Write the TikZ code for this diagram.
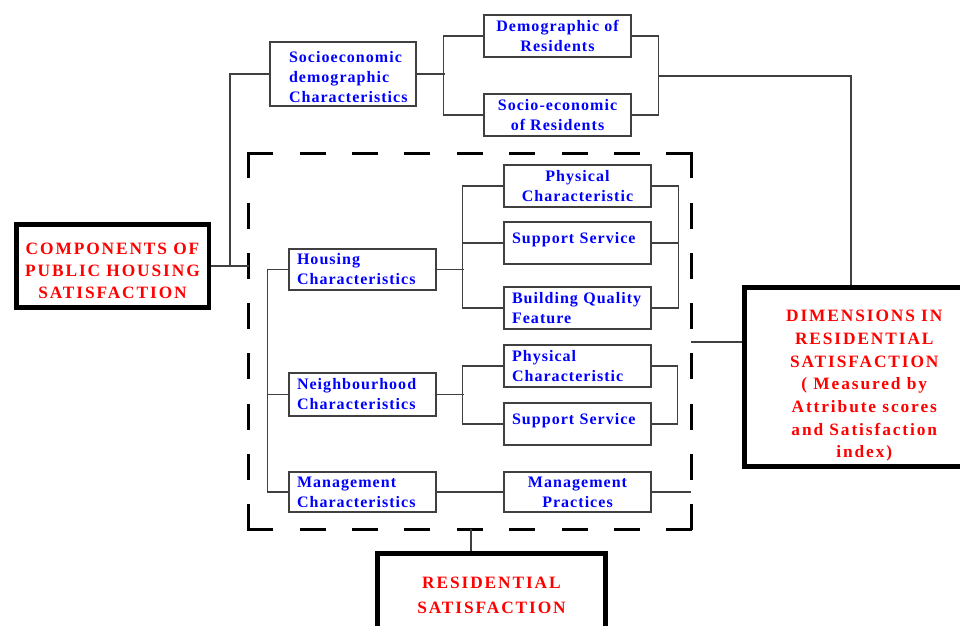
\documentclass[tikz,border=0pt]{standalone}
\usepackage{fontspec}
\setmainfont{Liberation Serif}
\newfontfamily\bluef[LetterSpace=6.5]{Liberation Serif}
\newfontfamily\redf[LetterSpace=11]{Liberation Serif}
\definecolor{bltxt}{RGB}{0,0,255}
\definecolor{rdtxt}{RGB}{255,0,0}
\definecolor{lngray}{RGB}{64,64,64}
\begin{document}
\begin{tikzpicture}[x=0.75pt,y=-0.75pt,
  ln/.style={draw=lngray, line width=0.9pt},
  bbox/.style={draw=lngray, line width=1pt, fill=white, minimum width=110.25pt, minimum height=31.5pt, inner sep=0pt,
    font=\bluef\bfseries\fontsize{12}{15}\selectfont, text=bltxt, align=center},
  lbox/.style={bbox, align=left, text width=98.25pt},
  rbox/.style={draw=black, line width=3.6pt, fill=white, inner sep=0pt,
    font=\redf\bfseries\fontsize{13}{17}\selectfont, text=rdtxt, align=center},
  dsh/.style={draw=black, line width=2.25pt, line cap=rect}
]
\clip (0,0) rectangle (960,625);
\fill[white] (0,0) rectangle (960,625);

% dashed group frame
\node[draw=none, minimum width=331.5pt, minimum height=281.25pt, inner sep=0pt] (grp) at (470,341.5) {};
\draw[dsh, dash pattern=on 17.25pt off 22.05pt] (grp.north west) -- (grp.north east);
\draw[dsh, dash pattern=on 17.25pt off 22.05pt] (grp.south west) -- (grp.south east);
\draw[dsh, dash pattern=on 17.25pt off 20.47pt] (grp.north west) -- (grp.south west);
\draw[dsh, dash pattern=on 17.25pt off 20.47pt] (grp.north east) -- (grp.south east);

% top branch
\node[lbox, minimum width=109.5pt, minimum height=48pt, text width=81pt] (soc) at (343,74)
  {\rule{0pt}{12.5pt}Socioeconomic\\demographic\\Characteristics};
\node[bbox] (dem) at (557.5,36) {Demographic of\\Residents};
\node[bbox] (socres) at (557.5,115) {Socio-economic\\of Residents};

% red boxes
\node[rbox, line width=3.4pt, minimum width=144.4pt, minimum height=62.6pt, font=\redf\bfseries\fontsize{13}{16.5}\selectfont] (comp) at (112.5,266)
  {\rule{0pt}{16pt}COMPONENTS OF\\PUBLIC HOUSING\\SATISFACTION};
\node[rbox, line width=3.75pt, minimum width=179.6pt, minimum height=134.25pt] (dim) at (864.25,377)
  {\rule{0pt}{22pt}DIMENSIONS IN\\RESIDENTIAL\\SATISFACTION\\( Measured by\\Attribute scores\\and Satisfaction\\index)};
\node[rbox, line width=3.75pt, minimum width=171pt, minimum height=62.6pt, font=\redf\bfseries\fontsize{13}{18.75}\selectfont] (res) at (491.5,595.25)
  {RESIDENTIAL\\SATISFACTION};

% housing group
\node[lbox, minimum height=30.75pt] (hous) at (362.5,269.5) {Housing\\Characteristics};
\node[bbox] (phys1) at (577.5,186) {Physical\\Characteristic};
\node[lbox, text height=9pt, text depth=9pt] (supp1) at (577.5,243) {Support Service};
\node[lbox] (bqf) at (577.5,308) {\mbox{Building Quality}\\Feature};

% neighbourhood group
\node[lbox, minimum height=32.25pt] (neigh) at (362.5,394.5) {Neighbourhood\\Characteristics};
\node[lbox] (phys2) at (577.5,366) {Physical\\Characteristic};
\node[lbox, text height=9pt, text depth=9pt] (supp2) at (577.5,424) {Support Service};

% management group
\node[lbox, minimum height=30pt] (mgmt) at (362.5,492) {Management\\Characteristics};
\node[bbox, minimum height=30pt] (mprac) at (577.5,492) {Management\\Practices};

% junction coordinates
\coordinate (j1) at (230,266);
\coordinate (j3) at (658,76);
\coordinate (j4) at (851,76);
\coordinate (j5) at (691,342);
\coordinate (j6) at (471,529);

% connectors
\draw[ln] (comp.east) -- (comp.east -| grp.west);
\draw[ln] (soc.west) -| (j1);
\draw[ln] (soc.east) -- ++(28,0);
\draw[ln] (dem.west) -- ++(-40,0) |- (socres.west);
\draw[ln] (dem.east) -- ++(27,0) |- (socres.east);
\draw[ln] (j3) -- (j4) -- (j4 |- dim.north);

\draw[ln] (hous.west) -- ++(-21,0) |- (mgmt.west);
\draw[ln] (neigh.west) -- ++(-21,0);
\draw[ln] (hous.east) -- ++(27,0);
\draw[ln] (phys1.west) -- ++(-41,0) |- (bqf.west);
\draw[ln] (supp1.west) -- ++(-41,0);
\draw[ln] (phys1.east) -- ++(27,0) |- (bqf.east);
\draw[ln] (supp1.east) -- ++(27,0);

\draw[ln] (neigh.east) -- ++(27,0);
\draw[ln] (phys2.west) -- ++(-41,0) |- (supp2.west);
\draw[ln] (phys2.east) -- ++(26,0) |- (supp2.east);

\draw[ln] (mgmt.east) -- (mprac.west);
\draw[ln] (mprac.east) -- (mprac.east -| grp.east);

\draw[ln] (j5) -- (j5 -| dim.west);
\draw[ln] (j6) -- (j6 |- res.north);
\end{tikzpicture}
\end{document}
